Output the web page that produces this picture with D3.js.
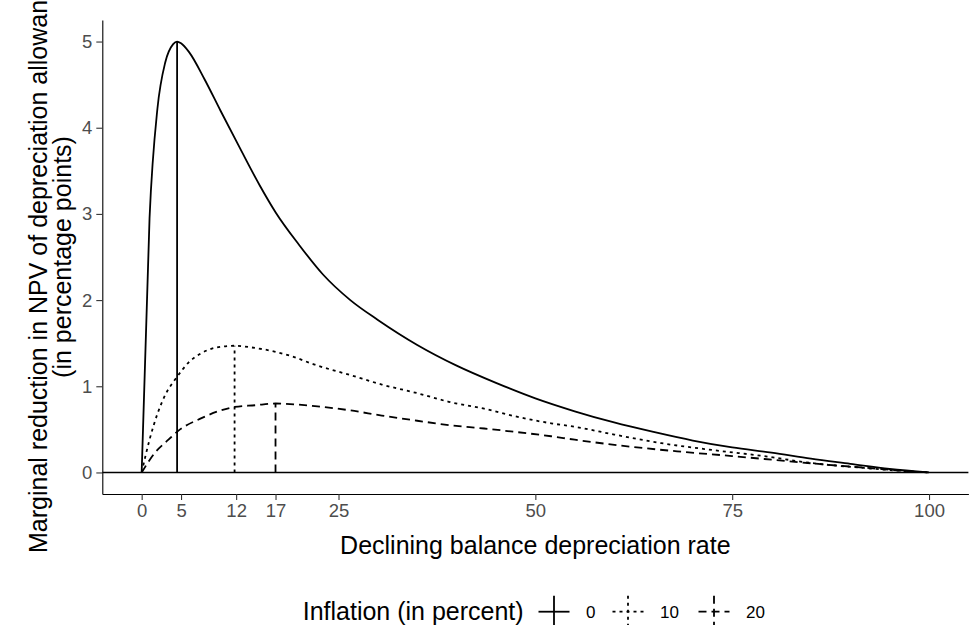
<!DOCTYPE html>
<html>
<head>
<meta charset="utf-8">
<script src="https://cdn.jsdelivr.net/npm/d3@7"></script>
<style>
  body { margin: 0; background: #fff; }
  svg { display: block; font-family: "Liberation Sans", Arial, sans-serif; }
  .axis text { fill: #4d4d4d; font-size: 18.5px; }
  .axis line { stroke: #333; }
  .axis path { stroke: #000; stroke-width: 1.1px; }
</style>
</head>
<body>
<div id="chart"></div>
<script>
// values
const inflation = ['0', '10', '20'];
const xTicks = [0, 5, 12, 17, 25, 50, 75, 100];
const yTicks = [0, 1, 2, 3, 4, 5];

const rates0 = [0, 1, 2, 3, 4, 4.5, 5, 6, 8, 10, 12.5, 15, 17, 20, 23, 26.5, 30, 35, 40, 45, 50, 55, 60, 65, 70, 75, 80, 85, 90, 95, 100];
const npv0 = [0, 2.95, 4.22, 4.76, 4.97, 5.0, 4.98, 4.88, 4.56, 4.2, 3.76, 3.33, 3.02, 2.64, 2.3, 2.0, 1.77, 1.48, 1.24, 1.04, 0.86, 0.71, 0.58, 0.47, 0.37, 0.29, 0.23, 0.16, 0.1, 0.04, 0];

const rates10 = [0, 1, 2, 3, 4.5, 6, 7.5, 9.5, 11.8, 14, 17, 19, 22, 26.5, 30.5, 35, 39, 43.5, 47.5, 52, 55, 60, 66, 72.5, 79, 85, 92, 98, 100];
const npv10 = [0, 0.38, 0.68, 0.9, 1.11, 1.28, 1.38, 1.45, 1.47, 1.45, 1.4, 1.35, 1.25, 1.13, 1.02, 0.92, 0.82, 0.74, 0.65, 0.57, 0.53, 0.44, 0.34, 0.26, 0.19, 0.11, 0.05, 0.01, 0];

const rates20 = [0, 1.7, 3.4, 4.6, 7.6, 9.7, 11.8, 14.4, 17, 19.5, 22, 26.5, 30.5, 35, 39, 43.5, 47.5, 52, 55, 62, 68, 75, 81, 87, 94, 98, 100];
const npv20 = [0, 0.23, 0.38, 0.48, 0.63, 0.71, 0.76, 0.78, 0.8, 0.79, 0.77, 0.72, 0.66, 0.6, 0.55, 0.51, 0.47, 0.42, 0.38, 0.3, 0.245, 0.19, 0.14, 0.09, 0.04, 0.01, 0];

const peakRate = [4.5, 11.8, 17];
const peakNpv = [5.0, 1.47, 0.8];

const width = 973;
const height = 625;
const dashes = [null, '3,4', '8,5'];

const series = [
  { rate: rates0, npv: npv0 },
  { rate: rates10, npv: npv10 },
  { rate: rates20, npv: npv20 }
];

const svg = d3.select('#chart')
  .append('svg')
  .attr('width', width)
  .attr('height', height);

const x = d3.scaleLinear().domain([-5, 105]).range([102.3, 968.4]);
const y = d3.scaleLinear().domain([-0.25, 5.25]).range([494, 20]);

// zero line
svg.append('line')
  .attr('x1', x(-5)).attr('x2', x(105))
  .attr('y1', y(0)).attr('y2', y(0))
  .attr('stroke', '#000')
  .attr('stroke-width', 1.5);

const line = d3.line()
  .x((d) => x(d[0]))
  .y((d) => y(d[1]))
  .curve(d3.curveMonotoneX);

series.forEach((s, i) => {
  const pts = s.rate.map((r, j) => [r, s.npv[j]]);
  svg.append('path')
    .datum(pts)
    .attr('d', line)
    .attr('fill', 'none')
    .attr('stroke', '#000')
    .attr('stroke-width', 1.8)
    .attr('stroke-linejoin', 'round')
    .attr('stroke-dasharray', dashes[i]);

  svg.append('line')
    .attr('x1', x(peakRate[i])).attr('x2', x(peakRate[i]))
    .attr('y1', y(0)).attr('y2', y(peakNpv[i]))
    .attr('stroke', '#000')
    .attr('stroke-width', 1.8)
    .attr('stroke-dasharray', dashes[i]);
});

// axes
svg.append('g')
  .attr('class', 'axis')
  .attr('transform', 'translate(0,' + y(-0.25) + ')')
  .call(d3.axisBottom(x).tickValues(xTicks).tickSize(6).tickSizeOuter(0).tickPadding(4));

svg.append('g')
  .attr('class', 'axis')
  .attr('transform', 'translate(' + x(-5) + ',0)')
  .call(d3.axisLeft(y).tickValues(yTicks).tickFormat(d3.format('d')).tickSize(6).tickSizeOuter(0).tickPadding(4));

svg.selectAll('.axis .tick line').attr('stroke-width', 1.1);

// axis titles
const midY = (y(-0.25) + y(5.25)) / 2;

svg.append('text')
  .attr('x', (x(-5) + x(105)) / 2)
  .attr('y', 554)
  .attr('text-anchor', 'middle')
  .attr('font-size', 25)
  .text('Declining balance depreciation rate');

svg.append('text')
  .attr('transform', 'translate(47,' + midY + ') rotate(-90)')
  .attr('text-anchor', 'middle')
  .attr('font-size', 25)
  .text('Marginal reduction in NPV of depreciation allowances');

svg.append('text')
  .attr('transform', 'translate(71,' + midY + ') rotate(-90)')
  .attr('text-anchor', 'middle')
  .attr('font-size', 25)
  .text('(in percentage points)');

// legend
const legend = svg.append('g');
legend.append('text')
  .attr('x', 302.7)
  .attr('y', 620)
  .attr('font-size', 25)
  .text('Inflation (in percent)');

const keyX = [554, 628, 714];
const keys = legend.selectAll('g.key')
  .data(inflation)
  .join('g')
  .attr('class', 'key')
  .attr('transform', (d, i) => 'translate(' + keyX[i] + ',611.7)');

keys.append('line')
  .attr('x1', -15.5).attr('x2', 15.5)
  .attr('stroke', '#000')
  .attr('stroke-width', 1.8)
  .attr('stroke-dasharray', (d, i) => dashes[i]);

keys.append('line')
  .attr('y1', -16).attr('y2', 16)
  .attr('stroke', '#000')
  .attr('stroke-width', 1.8)
  .attr('stroke-dasharray', (d, i) => dashes[i]);

keys.append('text')
  .attr('x', 32)
  .attr('y', 6.5)
  .attr('font-size', 17)
  .text((d) => d);
</script>
</body>
</html>
